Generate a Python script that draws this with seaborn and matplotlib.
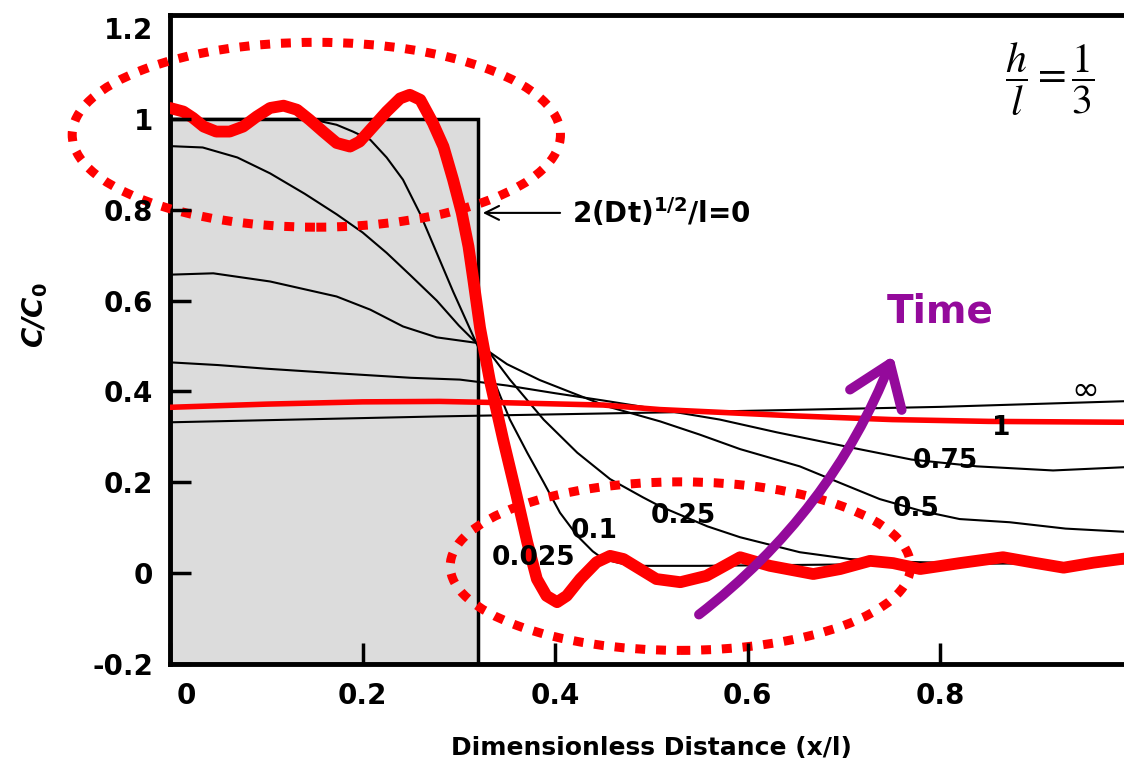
import matplotlib.pyplot as plt
import matplotlib.transforms as mtransforms
import pandas as pd
import seaborn as sns
from matplotlib.patches import Rectangle, Ellipse, FancyArrowPatch

# values: x/l and C/C0 for each curve
box_width = 0.32
box_height = 1.0

x_t01 = [0.0, 0.05, 0.10, 0.145, 0.173, 0.19, 0.208, 0.225, 0.242, 0.26, 0.277, 0.294, 0.311, 0.318,
         0.336, 0.353, 0.371, 0.388, 0.405, 0.423, 0.439, 0.45, 0.471, 0.491, 0.55, 0.65, 0.75, 0.85, 0.95, 1.0]
y_t01 = [1.0, 1.0, 1.0, 1.0, 0.987, 0.972, 0.954, 0.915, 0.866, 0.79, 0.705, 0.62, 0.54, 0.507,
         0.426, 0.338, 0.265, 0.2, 0.133, 0.082, 0.048, 0.031, 0.02, 0.016, 0.016, 0.018, 0.02, 0.021, 0.022, 0.022]

x_t025 = [0.0, 0.034, 0.07, 0.104, 0.14, 0.173, 0.2, 0.225, 0.25, 0.277, 0.30, 0.318, 0.332, 0.353,
          0.388, 0.423, 0.457, 0.491, 0.509, 0.558, 0.592, 0.654, 0.706, 0.76, 0.82, 0.9, 1.0]
y_t025 = [0.94, 0.937, 0.915, 0.88, 0.835, 0.79, 0.75, 0.705, 0.655, 0.60, 0.545, 0.507, 0.485, 0.426,
          0.338, 0.265, 0.207, 0.167, 0.147, 0.103, 0.079, 0.046, 0.031, 0.025, 0.022, 0.022, 0.022]

x_t05 = [0.0, 0.045, 0.104, 0.173, 0.208, 0.242, 0.277, 0.318, 0.35, 0.384, 0.42, 0.454, 0.509, 0.55, 0.592,
         0.654, 0.70, 0.737, 0.78, 0.82, 0.872, 0.93, 1.0]
y_t05 = [0.657, 0.66, 0.642, 0.609, 0.58, 0.543, 0.519, 0.507, 0.46, 0.425, 0.395, 0.367, 0.334, 0.305, 0.273,
         0.235, 0.195, 0.163, 0.137, 0.119, 0.112, 0.098, 0.09]

x_t075 = [0.0, 0.05, 0.1, 0.173, 0.25, 0.301, 0.35, 0.4, 0.45, 0.509, 0.571, 0.63, 0.706, 0.77, 0.838, 0.917, 1.0]
y_t075 = [0.464, 0.458, 0.45, 0.44, 0.43, 0.426, 0.413, 0.396, 0.38, 0.36, 0.338, 0.31, 0.277, 0.25, 0.235, 0.226, 0.234]

x_t1 = [0.0, 0.1, 0.2, 0.28, 0.35, 0.45, 0.509, 0.571, 0.65, 0.75, 0.85, 1.0]
y_t1 = [0.365, 0.372, 0.377, 0.378, 0.375, 0.37, 0.36, 0.354, 0.346, 0.338, 0.334, 0.332]

x_inf = [0.0, 0.28, 0.571, 0.8, 1.0]
y_inf = [0.332, 0.345, 0.356, 0.366, 0.379]

# the thick oscillating red profile
x_wave = [0, 0.014, 0.024, 0.035, 0.048, 0.062, 0.076, 0.090, 0.104, 0.118,
          0.132, 0.145, 0.159, 0.173, 0.187, 0.197, 0.211, 0.225, 0.239, 0.249,
          0.260, 0.273, 0.284, 0.294, 0.303, 0.310, 0.315, 0.322, 0.332, 0.346,
          0.36, 0.371, 0.381, 0.391, 0.402, 0.412, 0.426, 0.443, 0.457, 0.471,
          0.488, 0.505, 0.530, 0.557, 0.592, 0.623, 0.668, 0.696, 0.727, 0.751,
          0.779, 0.820, 0.865, 0.897, 0.928, 0.959, 0.991, 1.0]
y_wave = [1.024, 1.016, 1.002, 0.983, 0.972, 0.972, 0.983, 1.005, 1.024, 1.029,
          1.020, 0.998, 0.972, 0.947, 0.939, 0.950, 0.983, 1.016, 1.045, 1.053,
          1.042, 0.991, 0.939, 0.866, 0.793, 0.719, 0.646, 0.54, 0.426, 0.294,
          0.17, 0.068, -0.013, -0.05, -0.064, -0.05, -0.013, 0.024, 0.038, 0.031,
          0.009, -0.013, -0.02, -0.006, 0.035, 0.016, -0.002, 0.009, 0.027, 0.022,
          0.009, 0.022, 0.035, 0.023, 0.012, 0.023, 0.032, 0.033]

curve_labels = ['0.025', '0.1', '0.25', '0.5', '0.75', '1', '\u221e']
label_x = [0.378, 0.441, 0.533, 0.775, 0.805, 0.863, 0.950]
label_y = [0.033, 0.092, 0.125, 0.141, 0.246, 0.319, 0.402]

x_ticks = [0, 0.2, 0.4, 0.6, 0.8, 1.0]
x_ticklabels = ['0', '0.2', '0.4', '0.6', '0.8', '1']
y_ticks = [-0.2, 0, 0.2, 0.4, 0.6, 0.8, 1.0, 1.2]
y_ticklabels = ['-0.2', '0', '0.2', '0.4', '0.6', '0.8', '1', '1.2']

purple = '#940a9b'

sns.set_style('ticks')
plt.rcParams['font.family'] = ['DejaVu Sans']
plt.rcParams.update({'text.color': 'black', 'axes.labelcolor': 'black', 'axes.edgecolor': 'black',
                     'xtick.color': 'black', 'ytick.color': 'black'})

fig = plt.figure(figsize=(11.24, 7.7), dpi=100)
ax = fig.add_axes([0.1512, 0.1377, 0.8568, 0.8428])

# grey slab of initial concentration
ax.add_patch(Rectangle((0, -0.2), box_width, box_height + 0.2, facecolor='#dcdcdc',
                       edgecolor='black', lw=2.5, zorder=0.5))

black_curves = [(x_t01, y_t01), (x_t025, y_t025), (x_t05, y_t05), (x_t075, y_t075), (x_inf, y_inf)]
for xs, ys in black_curves:
    sns.lineplot(x=xs, y=ys, sort=False, estimator=None, color='black', linewidth=1.5, ax=ax, zorder=2)

sns.lineplot(x=x_t1, y=y_t1, sort=False, estimator=None, color='red', linewidth=4, ax=ax, zorder=3)
sns.lineplot(x=x_wave, y=y_wave, sort=False, estimator=None, color='red', linewidth=8.5, ax=ax, zorder=4,
             solid_joinstyle='round', solid_capstyle='round')

for lab, lx, ly in zip(curve_labels, label_x, label_y):
    if lab == '\u221e':
        ax.text(lx, ly, lab, fontsize=24, ha='center', va='center', zorder=7)
    else:
        ax.text(lx, ly, lab, fontsize=19, fontweight='bold', ha='center', va='center', zorder=7)

# dotted highlight ellipses
for center, w, h in [((0.152, 0.965), 0.507, 0.407), ((0.53, 0.0154), 0.478, 0.371)]:
    ax.add_patch(Ellipse(center, w, h, fill=False, edgecolor='red', lw=6.5,
                         linestyle=(0, (1.1, 1.2)), clip_on=False, zorder=5))

# time arrow
arrow = FancyArrowPatch((0.547, -0.095), (0.752, 0.484), connectionstyle='arc3,rad=0.14',
                        arrowstyle='->,head_length=1.4,head_width=1.0', mutation_scale=20,
                        color=purple, lw=7, zorder=6)
ax.add_patch(arrow)
ax.text(0.80, 0.576, 'Time', color=purple, fontsize=28, fontweight='bold', ha='center', va='center')

ax.annotate('', xy=(box_width + 0.002, 0.793), xytext=(0.408, 0.793),
            arrowprops=dict(arrowstyle='->', lw=1.5, color='black', mutation_scale=25))
ax.text(0.417, 0.793, r'2(Dt)$^{\mathbf{1/2}}$/l=0', fontsize=20, fontweight='bold', ha='left', va='center')

ax.text(0.914, 1.086, r'$\dfrac{h}{l}=\dfrac{1}{3}$', fontsize=30, math_fontfamily='stix',
        ha='center', va='center')

ax.set_xlim(0, 1.0)
ax.set_ylim(-0.2, 1.2286)
ax.set_xticks(x_ticks)
ax.set_xticklabels(x_ticklabels, fontsize=20, fontweight='bold')
ax.set_yticks(y_ticks)
ax.set_yticklabels(y_ticklabels, fontsize=20, fontweight='bold')
ax.tick_params(axis='both', direction='in', length=15, width=2.5)
ax.tick_params(axis='x', pad=13)
ax.tick_params(axis='y', pad=12)
ax.yaxis.get_major_ticks()[-1].tick1line.set_visible(False)
# tick marks sit on top of the dotted ellipses
ax.set_axisbelow(False)
ax.xaxis.set_zorder(5.5)
ax.yaxis.set_zorder(5.5)

lab0 = ax.get_xticklabels()[0]
lab0.set_transform(lab0.get_transform() + mtransforms.ScaledTranslation(12 / 72, 0, fig.dpi_scale_trans))

for side in ['left', 'bottom', 'top']:
    ax.spines[side].set_linewidth(3.5)
ax.spines['right'].set_visible(False)

ax.set_xlabel('Dimensionless Distance (x/l)', fontsize=18, fontweight='bold', labelpad=19)
ax.set_ylabel(r'C/C$_\mathbf{0}$', fontsize=20, fontweight='bold', fontstyle='italic')
ax.yaxis.set_label_coords(-0.125, 0.538)

fig.savefig('out.png', dpi=100)
